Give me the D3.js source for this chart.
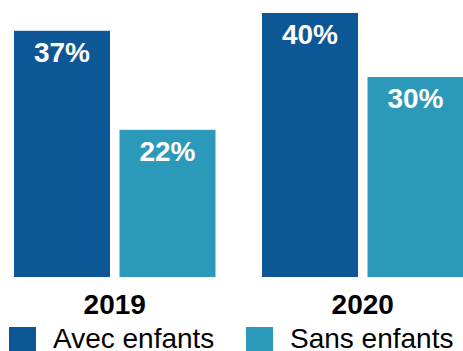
<!DOCTYPE html>
<html>
<head>
<meta charset="utf-8">
<script src="https://cdn.jsdelivr.net/npm/d3@7"></script>
<style>
html,body{margin:0;padding:0;background:#fff;overflow:hidden;}
svg{display:block;font-family:"Liberation Sans",Arial,sans-serif;}
</style>
</head>
<body>
<svg id="chart" width="463" height="351"></svg>
<script>
const years = ["2019", "2020"];
const seriesNames = ["Avec enfants", "Sans enfants"];
const avecEnfants = [37.3, 40.0];
const sansEnfants = [22.3, 30.3];
const colors = ["#0d5796", "#2b9aba"];

const data = years.map((y, i) => ({year: y, values: [avecEnfants[i], sansEnfants[i]]}));

const svg = d3.select("#chart");
const baseY = 277;

const x0 = d3.scaleBand().domain(years).range([14, 463.5]).paddingInner(0.1875).paddingOuter(0);
const x1 = d3.scaleBand().domain(seriesNames).range([0, x0.bandwidth()]).paddingInner(0.09).paddingOuter(0);
const y = d3.scaleLinear().domain([0, 40]).range([baseY, 13]);

const groups = svg.selectAll("g.grp").data(data).enter().append("g")
  .attr("class", "grp")
  .attr("transform", d => `translate(${x0(d.year)},0)`);

groups.selectAll("rect").data(d => d.values.map((v, j) => ({v, name: seriesNames[j], j})))
  .enter().append("rect")
  .attr("x", d => x1(d.name))
  .attr("y", d => y(d.v))
  .attr("width", x1.bandwidth())
  .attr("height", d => baseY - y(d.v))
  .attr("fill", d => colors[d.j]);

groups.selectAll("text.val").data(d => d.values.map((v, j) => ({v, name: seriesNames[j], j})))
  .enter().append("text")
  .attr("class", "val")
  .attr("x", d => x1(d.name) + x1.bandwidth() / 2)
  .attr("y", d => y(d.v) + 31)
  .attr("text-anchor", "middle")
  .attr("fill", "#fff")
  .attr("font-weight", "bold")
  .attr("font-size", 28)
  .text(d => Math.round(d.v) + "%");

// x axis labels
const xAxis = d3.axisBottom(x0).tickSize(0).tickPadding(0);
const ax = svg.append("g").attr("transform", `translate(0,${baseY})`).call(xAxis);
ax.select(".domain").remove();
ax.selectAll("text")
  .attr("dy", null)
  .attr("y", 37)
  .attr("fill", "#000")
  .attr("font-size", 28)
  .attr("font-weight", "bold")
  .attr("font-family", "Liberation Sans, Arial, sans-serif");

// legend
const legendX = [9, 246];
const leg = svg.selectAll("g.leg").data(seriesNames).enter().append("g")
  .attr("class", "leg")
  .attr("transform", (d, i) => `translate(${legendX[i]},327)`);
leg.append("rect").attr("width", 27).attr("height", 24).attr("fill", (d, i) => colors[i]);
leg.append("text").attr("x", 44).attr("y", 21).attr("font-size", 28).attr("fill", "#000").text(d => d);
</script>
</body>
</html>
